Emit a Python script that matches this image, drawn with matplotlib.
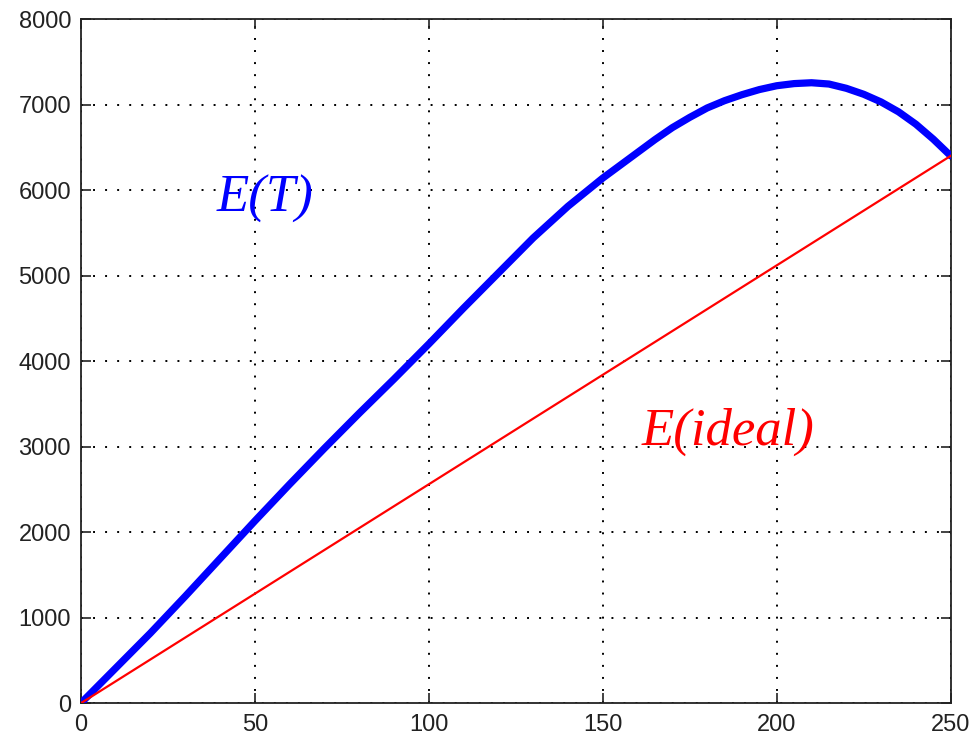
import matplotlib
matplotlib.use("Agg")
import matplotlib.pyplot as plt

# Data
t_values = [0, 10, 20, 30, 40, 50, 60, 70, 80, 90, 100, 110, 120, 130,
            140, 150, 160, 165, 170, 175, 180, 185, 190, 195, 200, 205,
            210, 215, 220, 225, 230, 235, 240, 245, 250]
e_t = [0, 410, 820, 1250, 1690, 2130, 2560, 2980, 3390, 3790, 4200, 4620,
       5030, 5440, 5810, 6140, 6440, 6590, 6730, 6850, 6960, 7045, 7115,
       7175, 7220, 7245, 7255, 7240, 7190, 7120, 7030, 6915, 6770, 6595,
       6400]
ideal_x = [0, 250]
ideal_y = [0, 6400]
x_ticks = [0, 50, 100, 150, 200, 250]
y_ticks = [0, 1000, 2000, 3000, 4000, 5000, 6000, 7000, 8000]

fig = plt.figure(figsize=(9.73, 7.40), dpi=100)
ax = fig.add_axes([0.0830, 0.0496, 0.8941, 0.9247])

ax.plot(t_values, e_t, color=(0, 0, 1), lw=5.2, solid_capstyle="round",
        solid_joinstyle="round", zorder=3)
ax.plot(ideal_x, ideal_y, color=(1, 0, 0), lw=1.6, zorder=4)

ax.set_xlim(0, 250)
ax.set_ylim(0, 8000)
ax.set_xticks(x_ticks)
ax.set_yticks(y_ticks)
ax.set_xticklabels([str(v) for v in x_ticks])
ax.set_yticklabels([str(v) for v in y_ticks])

ax.grid(True, color="black", linestyle=(0, (1.0, 5.2)), linewidth=1.4)
ax.set_axisbelow(True)

ax.tick_params(direction="in", length=7, width=1.2, top=True, right=True,
               labelsize=17, colors="#222222")
ax.tick_params(axis="x", pad=8)
ax.tick_params(axis="y", pad=7)
for lab in ax.get_xticklabels() + ax.get_yticklabels():
    lab.set_fontfamily("Liberation Sans")
for sp in ax.spines.values():
    sp.set_linewidth(1.3)
    sp.set_color("#222222")

ax.text(39.1, 5743, "E(T)", color=(0, 0, 1), fontsize=38,
        family="Liberation Serif", style="italic")
ax.text(161.2, 3026, "E(ideal)", color=(1, 0, 0), fontsize=38,
        family="Liberation Serif", style="italic")

fig.savefig("out.png", dpi=100)
